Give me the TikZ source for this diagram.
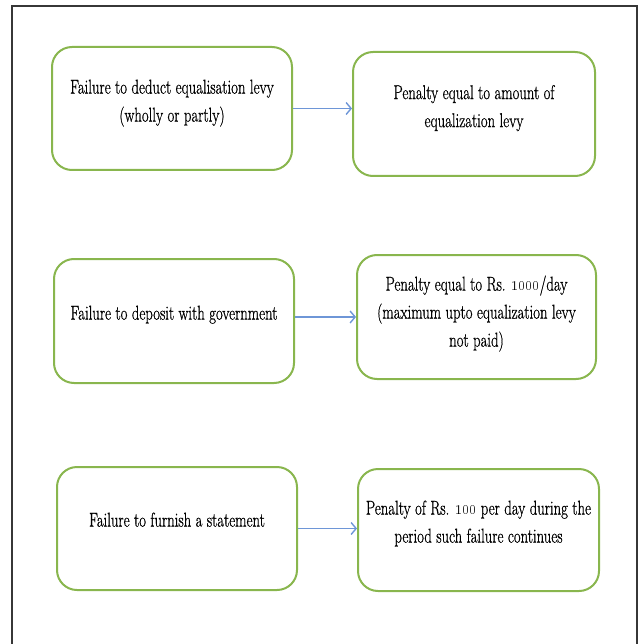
\documentclass[tikz,border=0pt]{standalone}
\usepackage{graphicx}
\usetikzlibrary{arrows.meta}
\definecolor{boxgreen}{RGB}{137,182,78}
\definecolor{arrowblue}{RGB}{110,150,215}
\definecolor{framegray}{RGB}{55,55,55}
\newcommand{\heavyon}{\special{pdf:literal direct 2 Tr 0.18 w}}
\newcommand{\heavyoff}{\special{pdf:literal direct 0 Tr}}
\newcommand{\condtext}[1]{\scalebox{0.735}[1]{\fontsize{20}{28}\selectfont\heavyon\begin{tabular}{@{}c@{}}#1\end{tabular}\heavyoff}}
\newcommand{\osthousand}{\textoneoldstyle\textzerooldstyle\textzerooldstyle\textzerooldstyle}
\newcommand{\oshundred}{\textoneoldstyle\textzerooldstyle\textzerooldstyle}
\tikzset{
  flowbox/.style={draw=boxgreen, line width=2pt, rounded corners=20pt, minimum width=#1, minimum height=123pt, inner sep=0pt},
  flowtext/.style={inner sep=0pt, align=center, text=black},
  flowarrow/.style={draw=arrowblue, line width=1.7pt, -{Straight Barb[length=5pt,width=12pt,line width=1.4pt]}},
}
\begin{document}
\begin{tikzpicture}[x=1pt,y=-1pt]
\useasboundingbox (0,0) rectangle (642,644);
\draw[framegray, line width=1.5pt] (12,650) coordinate (fbl) -- (12,6) coordinate (ftl) -- (637,6) coordinate (ftr) -- (637,650) coordinate (fbr);

\node[flowbox=240pt] (a1) at (172,108.5) {};
\node[flowbox=242pt, minimum height=124pt] (b1) at (474,114) {};
\node[flowbox=240pt, minimum height=124pt] (a2) at (174,321) {};
\node[flowbox=239pt, minimum height=124pt] (b2) at (476.5,317) {};
\node[flowbox=240pt] (a3) at (177,528.5) {};
\node[flowbox=241pt, minimum height=122pt] (b3) at (478.5,530) {};

\node[flowtext] (ta1) at (172,102) {\condtext{Failure to deduct equalisation levy\\(wholly or partly)}};
\node[flowtext] (tb1) at (474,107.5) {\condtext{Penalty equal to amount of\\equalization levy}};
\node[flowtext] (ta2) at (174,314) {\condtext{Failure to deposit with government}};
\node[flowtext] (tb2) at (476.5,313) {\condtext{Penalty equal to Rs. \osthousand/day\\(maximum upto equalization levy\\not paid)}};
\node[flowtext] (ta3) at (177,521) {\condtext{Failure to furnish a statement}};
\node[flowtext] (tb3) at (478.5,523) {\condtext{Penalty of Rs. \oshundred{} per day during the\\period such failure continues}};

\draw[flowarrow] (a1.east) -- (a1.east -| b1.west);
\draw[flowarrow] (b2.west -| a2.east) -- (b2.west);
\draw[flowarrow] (a3.east) -- (a3.east -| b3.west);
\end{tikzpicture}
\end{document}
